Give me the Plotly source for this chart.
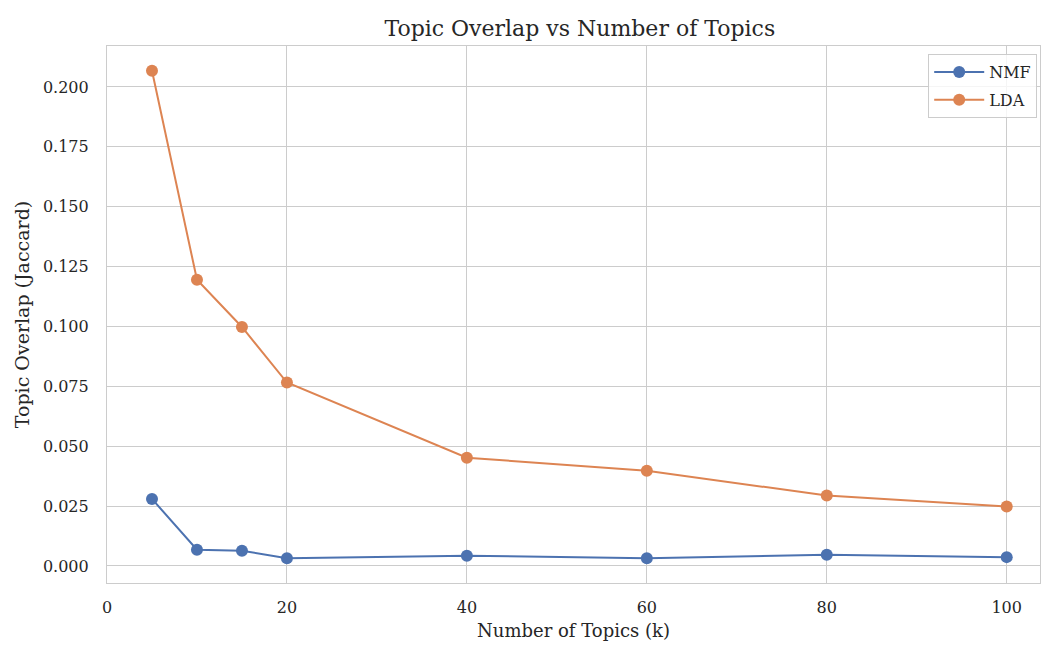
import plotly.graph_objects as go

# Number of topics evaluated
k_values = [5, 10, 15, 20, 40, 60, 80, 100]

# Mean pairwise Jaccard overlap between topic top-word sets
nmf_overlap = [0.028, 0.0068, 0.0064, 0.0032, 0.0043, 0.0032, 0.0047, 0.0037]
lda_overlap = [0.2068, 0.1195, 0.0998, 0.0766, 0.0452, 0.0398, 0.0294, 0.0248]

x_ticks = [0, 20, 40, 60, 80, 100]
y_ticks = [0.0, 0.025, 0.05, 0.075, 0.1, 0.125, 0.15, 0.175, 0.2]

FONT = "DejaVu Serif"
TEXT = "#262626"
BLUE = "#4c72b0"
ORANGE = "#dd8452"
GRID = "#cccccc"

fig = go.Figure()
fig.add_trace(go.Scatter(
    x=k_values, y=nmf_overlap, name="NMF", mode="lines+markers", legendgroup="nmf",
    line=dict(color=BLUE, width=2), marker=dict(color=BLUE, size=12),
))
fig.add_trace(go.Scatter(
    x=k_values, y=lda_overlap, name="LDA", mode="lines+markers", legendgroup="lda",
    line=dict(color=ORANGE, width=2), marker=dict(color=ORANGE, size=12),
))

fig.update_layout(
    width=1041, height=648,
    margin=dict(l=107, r=1, t=46, b=65),
    paper_bgcolor="white", plot_bgcolor="white",
    font=dict(family=FONT, size=16, color=TEXT),
    title=dict(text="Topic Overlap vs Number of Topics", x=0.557, xanchor="center",
               y=0.957, yanchor="middle", font=dict(family=FONT, size=22, color=TEXT)),
    legend=dict(x=0.997, y=0.985, xanchor="right", yanchor="top",
                bgcolor="rgba(255,255,255,0.8)", bordercolor=GRID, borderwidth=1,
                itemwidth=50, tracegroupgap=4,
                font=dict(family=FONT, size=16, color=TEXT)),
    showlegend=True,
)
fig.update_xaxes(
    range=[0, 103.7], tickvals=x_ticks, ticktext=[str(t) for t in x_ticks],
    showgrid=True, gridcolor=GRID, gridwidth=1, zeroline=False,
    showline=True, linecolor=GRID, linewidth=1.2, mirror=True,
    ticks="", ticklabelstandoff=10,
    title=dict(text="Number of Topics (k)", font=dict(family=FONT, size=18), standoff=8),
    tickfont=dict(family=FONT, size=16, color=TEXT),
)
fig.update_yaxes(
    range=[-0.0071, 0.2171], tickvals=y_ticks, tickformat=".3f",
    showgrid=True, gridcolor=GRID, gridwidth=1, zeroline=False,
    showline=True, linecolor=GRID, linewidth=1.2, mirror=True,
    ticks="", ticklabelstandoff=14,
    title=dict(text="Topic Overlap (Jaccard)", font=dict(family=FONT, size=19), standoff=8),
    tickfont=dict(family=FONT, size=16, color=TEXT),
)

fig.write_html("out.html")
